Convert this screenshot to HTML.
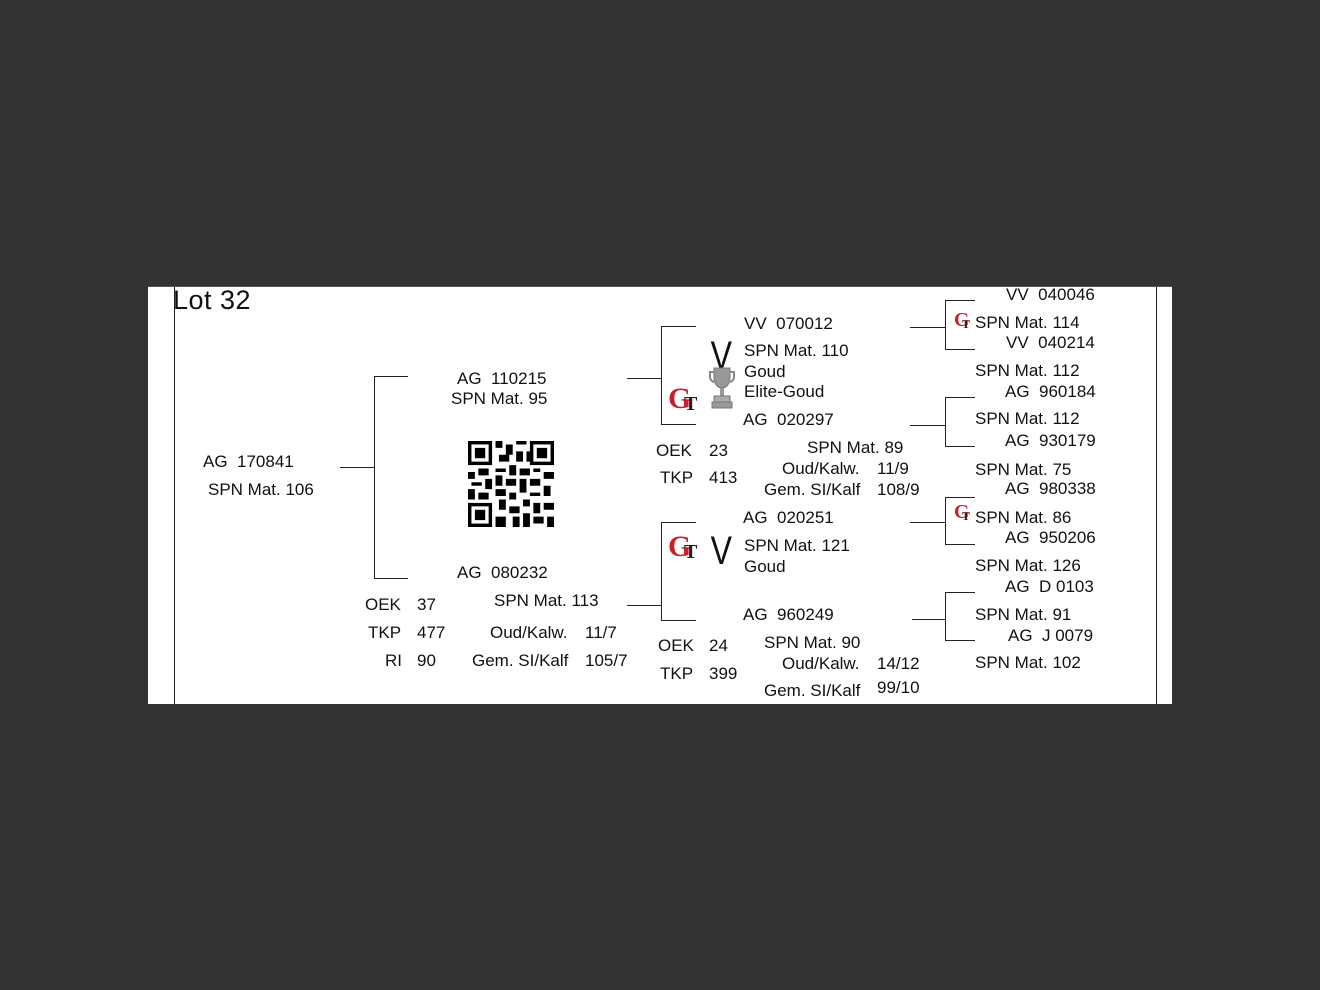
<!DOCTYPE html>
<html><head><style>
body{margin:0;width:1320px;height:990px;background:#333;position:relative;overflow:hidden;font-family:"Liberation Sans",sans-serif;}
#p{position:absolute;left:148px;top:286px;width:1024px;height:418px;background:#fff;}
.t{position:absolute;font-size:17px;line-height:20px;color:#111;white-space:pre;margin-top:1px;}
.h{position:absolute;height:1px;background:#222;}
.v{position:absolute;width:1px;background:#222;}
.gt{position:absolute;font-family:"Liberation Serif",serif;font-weight:bold;}
</style></head><body>
<div id="p"></div>
<div class="v" style="left:174px;top:286px;height:418px"></div>
<div class="v" style="left:1156px;top:286px;height:418px"></div>
<div class="h" style="left:148px;top:286px;width:1024px;background:#555"></div>
<div class="t" style="left:173px;top:284px;font-size:27px;line-height:30px;letter-spacing:0.5px">Lot 32</div>

<!-- lines -->
<div class="h" style="left:340px;top:467px;width:34px"></div>
<div class="v" style="left:374px;top:376px;height:202px"></div>
<div class="h" style="left:374px;top:376px;width:34px"></div>
<div class="h" style="left:374px;top:578px;width:34px"></div>

<div class="h" style="left:627px;top:378px;width:34px"></div>
<div class="v" style="left:661px;top:326px;height:98px"></div>
<div class="h" style="left:661px;top:326px;width:35px"></div>
<div class="h" style="left:661px;top:424px;width:35px"></div>

<div class="h" style="left:627px;top:605px;width:34px"></div>
<div class="v" style="left:661px;top:522px;height:98px"></div>
<div class="h" style="left:661px;top:522px;width:35px"></div>
<div class="h" style="left:661px;top:620px;width:35px"></div>

<div class="h" style="left:910px;top:327px;width:35px"></div>
<div class="v" style="left:945px;top:300px;height:49px"></div>
<div class="h" style="left:945px;top:300px;width:30px"></div>
<div class="h" style="left:945px;top:349px;width:30px"></div>

<div class="h" style="left:910px;top:425px;width:35px"></div>
<div class="v" style="left:945px;top:397px;height:49px"></div>
<div class="h" style="left:945px;top:397px;width:30px"></div>
<div class="h" style="left:945px;top:446px;width:30px"></div>

<div class="h" style="left:910px;top:522px;width:35px"></div>
<div class="v" style="left:945px;top:497px;height:47px"></div>
<div class="h" style="left:945px;top:497px;width:30px"></div>
<div class="h" style="left:945px;top:544px;width:30px"></div>

<div class="h" style="left:912px;top:619px;width:33px"></div>
<div class="v" style="left:945px;top:592px;height:48px"></div>
<div class="h" style="left:945px;top:592px;width:30px"></div>
<div class="h" style="left:945px;top:640px;width:30px"></div>

<!-- QR -->
<svg style="position:absolute;left:468px;top:441px" width="86" height="86" viewBox="0 0 25 25">
<rect width="25" height="25" fill="#fff"/>
<g fill="#000">
<rect x="0" y="0" width="7" height="7"/><rect x="1" y="1" width="5" height="5" fill="#fff"/><rect x="2" y="2" width="3" height="3"/>
<rect x="18" y="0" width="7" height="7"/><rect x="19" y="1" width="5" height="5" fill="#fff"/><rect x="20" y="2" width="3" height="3"/>
<rect x="0" y="18" width="7" height="7"/><rect x="1" y="19" width="5" height="5" fill="#fff"/><rect x="2" y="20" width="3" height="3"/>
<path d="M8 0h2v2h-2zM11 1h2v3h-2zM14 0h3v1h-3zM9 4h3v2h-3zM14 3h2v3h-2zM8 8h3v1h-3zM12 7h2v3h-2zM15 8h3v2h-3zM19 8h2v1h-2zM22 9h3v2h-3zM0 9h2v2h-2zM3 8h3v2h-3zM1 12h3v1h-3zM5 11h2v3h-2zM8 10h2v3h-2zM11 11h3v2h-3zM15 11h2v4h-2zM18 11h3v2h-3zM22 13h2v3h-2zM0 14h2v3h-2zM3 15h3v2h-3zM8 14h3v2h-3zM12 15h2v2h-2zM18 15h3v1h-3zM9 17h2v3h-2zM12 19h3v2h-3zM16 17h2v2h-2zM19 18h2v3h-2zM22 18h3v2h-3zM8 22h3v3h-3zM13 22h2v3h-2zM16 21h2v4h-2zM19 22h3v2h-3zM23 22h2v3h-2zM17 3h1v3h-1z"/>
</g></svg>

<!-- logos -->
<div class="gt" style="left:668px;top:382px;font-size:30px;color:#c8202a;">G</div>
<div class="gt" style="left:684px;top:393px;font-size:20px;color:#222;">T</div>
<div class="gt" style="left:668px;top:530px;font-size:30px;color:#c8202a;">G</div>
<div class="gt" style="left:684px;top:541px;font-size:20px;color:#222;">T</div>
<div class="gt" style="left:954px;top:309px;font-size:20px;color:#c8202a;">G</div>
<div class="gt" style="left:962px;top:317px;font-size:12px;color:#222;">T</div>
<div class="gt" style="left:954px;top:501px;font-size:20px;color:#c8202a;">G</div>
<div class="gt" style="left:962px;top:509px;font-size:12px;color:#222;">T</div>
<div class="t" style="left:708px;top:333px;font-size:40px;line-height:44px;transform:scaleX(0.8)">V</div>
<div class="t" style="left:708px;top:528px;font-size:40px;line-height:44px;transform:scaleX(0.8)">V</div>
<svg style="position:absolute;left:708px;top:366px" width="28" height="46" viewBox="0 0 28 46">
<path d="M6 2h16v10c0 6-4 10-8 10s-8-4-8-10z" fill="#999" stroke="#777"/>
<path d="M6 6h-4v5c0 3 3 5 4 5M22 6h4v5c0 3-3 5-4 5" fill="none" stroke="#888" stroke-width="2"/>
<rect x="12" y="22" width="4" height="8" fill="#999"/>
<rect x="6" y="30" width="16" height="6" fill="#aaa" stroke="#777"/>
<rect x="4" y="36" width="20" height="6" fill="#999" stroke="#777"/>
</svg>

<!-- texts -->
<div class="t" style="left:203px;top:451px">AG  170841</div>
<div class="t" style="left:208px;top:479px">SPN Mat. 106</div>
<div class="t" style="left:457px;top:368px">AG  110215</div>
<div class="t" style="left:451px;top:388px">SPN Mat. 95</div>
<div class="t" style="left:457px;top:562px">AG  080232</div>
<div class="t" style="left:494px;top:590px">SPN Mat. 113</div>
<div class="t" style="left:365px;top:594px">OEK</div><div class="t" style="left:417px;top:594px">37</div>
<div class="t" style="left:368px;top:622px">TKP</div><div class="t" style="left:417px;top:622px">477</div>
<div class="t" style="left:385px;top:650px">RI</div><div class="t" style="left:417px;top:650px">90</div>
<div class="t" style="left:490px;top:622px">Oud/Kalw.</div><div class="t" style="left:585px;top:622px">11/7</div>
<div class="t" style="left:472px;top:650px">Gem. SI/Kalf</div><div class="t" style="left:585px;top:650px">105/7</div>

<div class="t" style="left:744px;top:313px">VV  070012</div>
<div class="t" style="left:744px;top:340px">SPN Mat. 110</div>
<div class="t" style="left:744px;top:361px">Goud</div>
<div class="t" style="left:744px;top:381px">Elite-Goud</div>
<div class="t" style="left:743px;top:409px">AG  020297</div>
<div class="t" style="left:656px;top:440px">OEK</div><div class="t" style="left:709px;top:440px">23</div>
<div class="t" style="left:660px;top:467px">TKP</div><div class="t" style="left:709px;top:467px">413</div>
<div class="t" style="left:807px;top:437px">SPN Mat. 89</div>
<div class="t" style="left:782px;top:458px">Oud/Kalw.</div><div class="t" style="left:877px;top:458px">11/9</div>
<div class="t" style="left:764px;top:479px">Gem. SI/Kalf</div><div class="t" style="left:877px;top:479px">108/9</div>

<div class="t" style="left:743px;top:507px">AG  020251</div>
<div class="t" style="left:744px;top:535px">SPN Mat. 121</div>
<div class="t" style="left:744px;top:556px">Goud</div>
<div class="t" style="left:743px;top:604px">AG  960249</div>
<div class="t" style="left:658px;top:635px">OEK</div><div class="t" style="left:709px;top:635px">24</div>
<div class="t" style="left:660px;top:663px">TKP</div><div class="t" style="left:709px;top:663px">399</div>
<div class="t" style="left:764px;top:632px">SPN Mat. 90</div>
<div class="t" style="left:782px;top:653px">Oud/Kalw.</div><div class="t" style="left:877px;top:653px">14/12</div>
<div class="t" style="left:764px;top:680px">Gem. SI/Kalf</div><div class="t" style="left:877px;top:677px">99/10</div>

<div class="t" style="left:1006px;top:284px">VV  040046</div>
<div class="t" style="left:975px;top:312px">SPN Mat. 114</div>
<div class="t" style="left:1006px;top:332px">VV  040214</div>
<div class="t" style="left:975px;top:360px">SPN Mat. 112</div>
<div class="t" style="left:1005px;top:381px">AG  960184</div>
<div class="t" style="left:975px;top:408px">SPN Mat. 112</div>
<div class="t" style="left:1005px;top:430px">AG  930179</div>
<div class="t" style="left:975px;top:459px">SPN Mat. 75</div>
<div class="t" style="left:1005px;top:478px">AG  980338</div>
<div class="t" style="left:975px;top:507px">SPN Mat. 86</div>
<div class="t" style="left:1005px;top:527px">AG  950206</div>
<div class="t" style="left:975px;top:555px">SPN Mat. 126</div>
<div class="t" style="left:1005px;top:576px">AG  D 0103</div>
<div class="t" style="left:975px;top:604px">SPN Mat. 91</div>
<div class="t" style="left:1008px;top:625px">AG  J 0079</div>
<div class="t" style="left:975px;top:652px">SPN Mat. 102</div>
</body></html>
